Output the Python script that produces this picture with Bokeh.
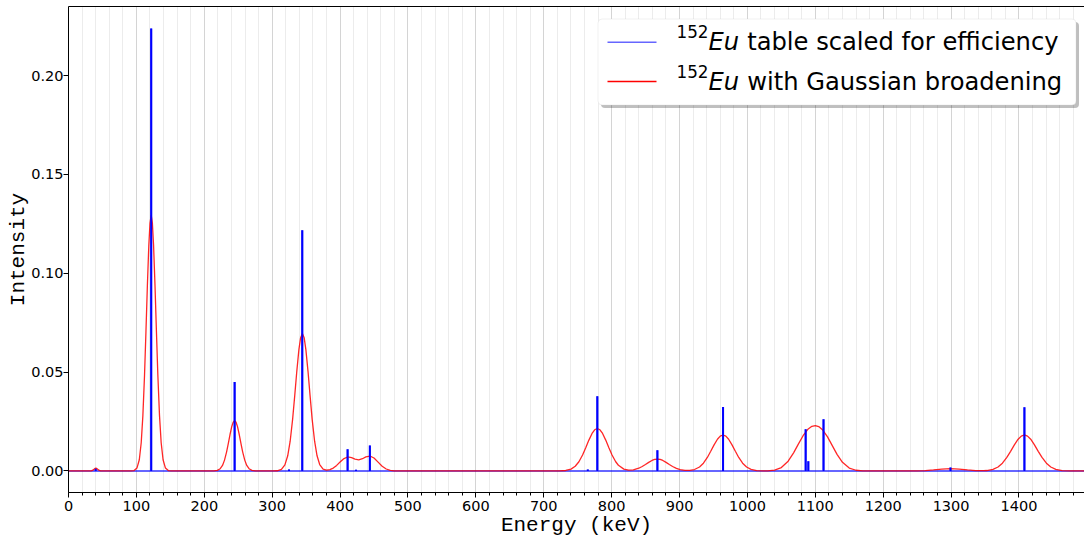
from bokeh.plotting import figure
from bokeh.models import (Range1d, SingleIntervalTicker, FixedTicker, LinearAxis,
                          PrintfTickFormatter, BoxAnnotation, Label)
from bokeh.embed import file_html
from bokeh.resources import INLINE

# Eu-152 gamma lines (keV) with intensities scaled for detector efficiency
line_energy = [40.1, 121.8, 244.7, 324.8, 344.3, 411.1, 423.5, 443.9, 764.9,
               778.9, 867.4, 964.1, 1085.8, 1089.7, 1112.1, 1299.1, 1408.0]
line_intensity = [0.0011, 0.2239, 0.0450, 0.0007, 0.1218, 0.0110, 0.0006, 0.0129, 0.0007,
                  0.0378, 0.0105, 0.0324, 0.0211, 0.0049, 0.0262, 0.0017, 0.0322]

# Spectrum after Gaussian broadening, sampled along the energy axis
broad_energy = [
    0, 30.0, 33.3, 35.1, 36.9, 38.6, 40.3, 42.0, 43.7, 45.5, 47.3, 50.6,
    92.4, 96.6, 100.8, 104.3, 107.1, 109.55, 112.0, 114.1, 116.2, 118.3, 120.05, 121.8,
    123.55, 125.3, 127.4, 129.5, 131.6, 134.05, 136.5, 139.3, 142.8, 147.0, 151.2,
    209.0, 214.1, 219.2, 223.45, 226.85, 229.8, 232.8, 235.35, 237.9, 240.45, 242.6, 244.7,
    246.8, 248.95, 251.5, 254.05, 256.6, 259.6, 262.55, 265.95, 270.2, 275.3, 280.4,
    301.2, 307.4, 313.6, 318.75, 322.9, 326.5, 330.1, 333.2, 336.3, 339.35, 341.9, 344.5,
    347.1, 349.65, 352.75, 355.85, 358.9, 362.5, 366.1, 370, 375, 380, 385, 390, 395,
    400, 405, 411, 417, 422, 427.5, 433, 438, 444, 450, 456, 462, 468, 474, 480, 487, 495,
    713.8, 723.1, 732.4, 740.15, 746.35, 751.8, 757.2, 761.85, 766.5, 771.15, 775.0, 778.9,
    782.8, 786.65, 791.3, 795.95, 800.6, 806.0, 810, 818, 825, 832, 840,
    845.0, 849.8, 854.6, 859.4, 863.4, 867.4, 871.4, 875.4, 880.2, 885.0, 889.8, 895.4,
    901, 908, 915, 922, 929.45, 935.2, 941.0, 945.95, 950.9, 955.85, 959.95, 964.1,
    968.25, 972.35, 977.3, 982.25, 987.2, 992.95, 998.75, 1005.35, 1013.6, 1023.5,
    1030, 1040, 1050, 1060, 1068, 1075, 1082, 1089, 1095, 1100, 1105, 1111, 1118, 1125,
    1132, 1140, 1150, 1160, 1170, 1180,
    1230, 1250, 1262, 1274, 1286.5, 1299.1, 1311.7, 1324.2, 1336.2, 1348.2,
    1352.5, 1361.75, 1369.15, 1375.6, 1382.1, 1387.65, 1393.2, 1398.75, 1403.4, 1408.0,
    1412.6, 1417.25, 1422.8, 1428.35, 1433.9, 1440.4, 1446.85, 1454.25, 1463.5, 1474.6,
    1485.7, 1500,
]
broad_intensity = [
    0, 0, 0.00006, 0.00025, 0.00067, 0.00117, 0.0014, 0.00117, 0.00067, 0.00025, 0.00006, 0,
    0, 0.00019, 0.00144, 0.00568, 0.01427, 0.0280, 0.0486, 0.0707, 0.0940, 0.1142, 0.1254, 0.1294,
    0.1254, 0.1142, 0.0940, 0.0707, 0.0486, 0.0280, 0.01427, 0.00568, 0.00144, 0.00019, 0,
    0, 0.00004, 0.00028, 0.00112, 0.0028, 0.00549, 0.00953, 0.01387, 0.01844, 0.02242, 0.02462, 0.0254,
    0.02462, 0.02242, 0.01844, 0.01387, 0.00953, 0.00549, 0.0028, 0.00112, 0.00028, 0.00004, 0,
    0, 0.0001, 0.00077, 0.00306, 0.00768, 0.01505, 0.02612, 0.03801, 0.05054, 0.06142, 0.06746, 0.0696,
    0.06746, 0.06142, 0.05054, 0.03801, 0.02612, 0.01505, 0.00768, 0.00326, 0.00094, 0.00042, 0.00068, 0.00147, 0.00281,
    0.00451, 0.0061, 0.00707, 0.00671, 0.00597, 0.00562, 0.0062, 0.00712, 0.00756, 0.00654, 0.00446, 0.00237, 0.00099, 0.00032, 0.00008, 0.00001, 0,
    0, 0.00003, 0.00024, 0.00094, 0.00237, 0.00465, 0.00807, 0.01174, 0.01561, 0.01897, 0.02084, 0.0215,
    0.02084, 0.01897, 0.01561, 0.01174, 0.00807, 0.00465, 0.00288, 0.00094, 0.00044, 0.00058, 0.00139,
    0.00225, 0.00328, 0.00436, 0.0053, 0.00582, 0.0060, 0.00582, 0.0053, 0.00436, 0.00328, 0.00225, 0.0013,
    0.00067, 0.0003, 0.00029, 0.00072, 0.00201, 0.00394, 0.00683, 0.00994, 0.01322, 0.01606, 0.01764, 0.0182,
    0.01764, 0.01606, 0.01322, 0.00994, 0.00683, 0.00394, 0.00201, 0.0008, 0.0002, 0.00005,
    0.00008, 0.00045, 0.00174, 0.00494, 0.00917, 0.0136, 0.01784, 0.02105, 0.02261, 0.02297, 0.02245, 0.02069, 0.01723, 0.01284,
    0.00842, 0.00437, 0.00147, 0.00036, 0.00006, 0,
    0, 0.00004, 0.00018, 0.0005, 0.00096, 0.0012, 0.00096, 0.0005, 0.00019, 0.00014,
    0.00022, 0.0008, 0.00201, 0.00394, 0.00683, 0.00994, 0.01322, 0.01606, 0.01764, 0.0182,
    0.01764, 0.01606, 0.01322, 0.00994, 0.00683, 0.00394, 0.00201, 0.0008, 0.0002, 0.00003,
    0, 0,
]

spectrum_span = (0, 1500)          # energy window of the table, keV
x_major_step, x_minor_count = 100, 5
y_major_step = 0.05
y_tick_format = "%.2f"

legend_rows = [
    ("152", "Eu", "table scaled for efficiency"),
    ("152", "Eu", "with Gaussian broadening"),
]

# ---- figure --------------------------------------------------------------
FRAME_LEFT, FRAME_BOTTOM = 68, 492

p = figure(width=1084, height=540, output_backend="svg", toolbar_location=None,
           title=None,
           x_range=Range1d(0, 1496.5), y_range=Range1d(-0.0109, 0.2350),
           min_border_left=FRAME_LEFT, min_border_right=0,
           min_border_top=6, min_border_bottom=540 - FRAME_BOTTOM,
           background_fill_color="white", border_fill_color="white")
p.outline_line_color = None

# table drawn as a spike train on the energy axis
spike_x, spike_y = [spectrum_span[0]], [0.0]
for e, i in zip(line_energy, line_intensity):
    spike_x += [e, e, e]
    spike_y += [0.0, i, 0.0]
spike_x.append(spectrum_span[1])
spike_y.append(0.0)

p.line(spike_x, spike_y, line_color="blue", line_alpha=0.6, line_width=2)
p.line(broad_energy, broad_intensity, line_color="red", line_alpha=0.85, line_width=1.3)
p.segment(x0=line_energy, y0=[0.0] * len(line_energy), x1=line_energy, y1=line_intensity,
          line_color="blue", line_width=2)

# ---- axes ----------------------------------------------------------------
xax = p.xaxis[0]
xax.ticker = SingleIntervalTicker(interval=x_major_step, num_minor_ticks=x_minor_count)
yax = p.yaxis[0]
yax.ticker = SingleIntervalTicker(interval=y_major_step, num_minor_ticks=0)
yax.formatter = PrintfTickFormatter(format=y_tick_format)

for ax in (xax, yax):
    ax.axis_line_color = "black"
    ax.axis_line_width = 1
    ax.major_tick_line_color = "black"
    ax.major_tick_out = 5
    ax.major_tick_in = 0
    ax.minor_tick_line_color = "black"
    ax.minor_tick_out = 3
    ax.minor_tick_in = 0
    ax.major_label_text_font = "DejaVu Sans"
    ax.major_label_text_font_size = "14.5px"
    ax.major_label_text_color = "black"
    ax.axis_label_text_font = "Liberation Mono"
    ax.axis_label_text_font_size = "21px"
    ax.axis_label_text_font_style = "normal"
    ax.axis_label_text_color = "black"

xax.major_label_standoff = 3
xax.axis_label_standoff = 0
yax.major_label_standoff = 0
yax.axis_label_standoff = -2

xax.axis_label = "Energy (keV)"
yax.axis_label = "Intensity"
yax.minor_tick_line_color = None

top_axis = LinearAxis(ticker=FixedTicker(ticks=[]), axis_line_color="black",
                      major_tick_out=0, minor_tick_out=0, major_label_text_font_size="0px")
p.add_layout(top_axis, "above")

p.xgrid.grid_line_color = "#d4d4d4"
p.xgrid.grid_line_width = 1
p.xgrid.minor_grid_line_color = "#ececec"
p.xgrid.minor_grid_line_width = 1
p.ygrid.visible = False

# ---- legend --------------------------------------------------------------
def sx(x):
    return x - FRAME_LEFT


def sy(y):
    return FRAME_BOTTOM - y


def screen_box(l, r, t, b, **kw):
    return BoxAnnotation(left=sx(l), right=sx(r), top=sy(t), bottom=sy(b),
                         left_units="screen", right_units="screen",
                         top_units="screen", bottom_units="screen", **kw)


p.add_layout(screen_box(600.5, 1078.5, 21.5, 107.5, fill_color="black", fill_alpha=0.25,
                        line_color=None, border_radius=4))
p.add_layout(screen_box(597.5, 1075.5, 18.5, 104.5, fill_color="white", fill_alpha=1,
                        line_color="#cccccc", line_width=1, border_radius=4))

sample_colors = [("blue", 0.6), ("red", 1.0)]
row_centers = [41.7, 81.0]
for yc, (col, alpha) in zip(row_centers, sample_colors):
    p.add_layout(screen_box(607, 656, yc - 0.75, yc + 0.75, line_color=None,
                            fill_color=col, fill_alpha=alpha))

row_baselines = [41.8, 81.5]
for (sup, iso, rest), base in zip(legend_rows, row_baselines):
    p.add_layout(Label(x=sx(676), y=sy(base - 10.5), x_units="screen", y_units="screen",
                       text=sup, text_font="DejaVu Sans", text_font_size="16.8px",
                       text_color="black", text_baseline="alphabetic"))
    p.add_layout(Label(x=sx(708), y=sy(base), x_units="screen", y_units="screen",
                       text=iso, text_font="DejaVu Sans", text_font_size="24.2px",
                       text_font_style="italic", text_color="black",
                       text_baseline="alphabetic"))
    p.add_layout(Label(x=sx(746.7), y=sy(base), x_units="screen", y_units="screen",
                       text=rest, text_font="DejaVu Sans", text_font_size="24.2px",
                       text_color="black", text_baseline="alphabetic"))

open("out.html", "w").write(file_html(p, INLINE))
